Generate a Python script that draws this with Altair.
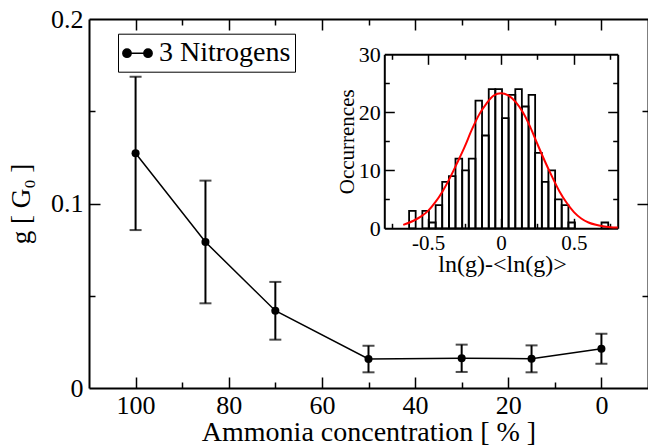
import altair as alt
import pandas as pd

FONT = "Liberation Serif"

# ---------------- main series ----------------
conc = [100, 85, 70, 50, 30, 15, 0]
g_mean = [0.1272, 0.0791, 0.0419, 0.0157, 0.0161, 0.0159, 0.0213]
g_low = [0.0856, 0.0459, 0.0262, 0.0085, 0.0087, 0.0085, 0.0132]
g_high = [0.1687, 0.1124, 0.0575, 0.0229, 0.0235, 0.0231, 0.0294]
series_name = "3 Nitrogens"

main_x_major = [100, 80, 60, 40, 20, 0]
main_x_ticks = [100, 90, 80, 70, 60, 50, 40, 30, 20, 10, 0]
main_y_major = [0, 0.1, 0.2]
main_y_ticks = [0.05, 0.1, 0.15]

# ---------------- inset histogram ----------------
bin_edges = [-0.630, -0.585, -0.539, -0.494, -0.448, -0.403, -0.357, -0.312,
             -0.266, -0.221, -0.175, -0.130, -0.084, -0.039, 0.007, 0.052,
             0.098, 0.143, 0.189, 0.234, 0.280, 0.325, 0.371, 0.416, 0.462,
             0.507, 0.553, 0.598, 0.644, 0.689, 0.735]
counts = [3, 0, 3, 1, 4, 8, 9, 12, 10, 12, 22, 16, 24, 24, 19, 23, 24, 21, 23,
          13, 8, 10, 5, 4, 1, 0, 0, 0, 0, 1]

curve_x = [-0.67, -0.60, -0.55, -0.50, -0.45, -0.40, -0.35, -0.30, -0.25, -0.20,
           -0.15, -0.10, -0.05, 0.00, 0.05, 0.10, 0.15, 0.20, 0.25, 0.30,
           0.35, 0.40, 0.45, 0.50, 0.55, 0.60, 0.65, 0.70, 0.75, 0.80]
curve_y = [0.6, 1.3, 2.0, 3.0, 4.5, 6.4, 8.7, 11.3, 14.0, 17.0,
           19.6, 21.5, 22.9, 23.3, 22.9, 21.8, 20.0, 17.5, 14.5, 11.6,
           8.9, 6.4, 4.4, 2.8, 1.7, 1.0, 0.6, 0.35, 0.2, 0.12]

inset_x_major = [-0.5, 0, 0.5]
inset_x_ticks = [-0.75, -0.5, -0.25, 0, 0.25, 0.5, 0.75]
inset_y_major = [0, 10, 20, 30]
inset_y_ticks = [5, 10, 15, 20, 25]

# ---------------- layout ----------------
W, H = 559, 369
IN_L, IN_R, IN_T, IN_B = 295.3, 528.7, 35.3, 209.3

main_df = pd.DataFrame({"conc": conc, "g": g_mean, "lo": g_low, "hi": g_high,
                        "series": [series_name] * len(conc)})
hist_df = pd.DataFrame({"x0": bin_edges[:-1], "x1": bin_edges[1:], "count": counts})
hist_df["zero"] = 0
hist_df = hist_df[hist_df["count"] > 0]
curve_df = pd.DataFrame({"x": curve_x, "y": curve_y})


def ax(**kw):
    base = dict(grid=False, labelFont=FONT, titleFont=FONT, labelColor="black",
                titleColor="black", domainColor="black", tickColor="black",
                titleFontWeight="normal")
    base.update(kw)
    return alt.Axis(**base)


def tsize(test, big, small):
    return {"condition": {"test": test, "value": big}, "value": small}


def mx():
    return alt.Scale(domain=[110, -10], nice=False, zero=False)


def my():
    return alt.Scale(domain=[0, 0.2], nice=False, zero=False)


def ix():
    return alt.Scale(domain=[-0.8, 0.8], range=[IN_L, IN_R], nice=False, zero=False)


def iy():
    return alt.Scale(domain=[0, 30], range=[IN_B, IN_T], nice=False, zero=False)


MX_T = tsize("datum.value % 20 == 0", 11, 6)
MY_T = tsize("round(datum.value * 100) % 10 == 0", 11, 6)
IX_T = tsize("round(datum.value * 4) % 2 == 0", 10, 5)
IY_T = tsize("datum.value % 10 == 0", 10, 5)

# ---- main axes ----
mx_lab = ax(orient="bottom", values=main_x_major, ticks=False, tickSize=0, domain=True,
            domainWidth=2, labelFontSize=26, labelPadding=4, labelExpr="'' + datum.value",
            title="Ammonia concentration [ % ]", titleFontSize=28, titleY=52,
            titleBaseline="alphabetic")
mx_in = ax(orient="top", offset=-H, values=main_x_ticks, labels=False, domain=False,
           tickSize=MX_T, tickWidth=1.5, title=None)
mx_top = ax(orient="bottom", offset=-H, values=main_x_ticks, labels=False, domain=True,
            domainWidth=2, tickSize=MX_T, tickWidth=1.5, title=None)
my_lab = ax(orient="left", values=main_y_major, ticks=False, tickSize=0, domain=True,
            domainWidth=2, labelFontSize=26, labelPadding=6,
            labelExpr="datum.value == 0 ? '0' : format(datum.value, '.1f')",
            title="g [ G₀ ]", titleFontSize=27, titleAngle=270, titleX=-60, titleY=184.5,
            titleAlign="center", titleBaseline="alphabetic")
my_in = ax(orient="right", offset=-W, values=main_y_ticks, labels=False, domain=False,
           tickSize=MY_T, tickWidth=1.5, title=None)
my_right = ax(orient="left", offset=-W, values=main_y_ticks, labels=False, domain=True,
              domainWidth=2, tickSize=MY_T, tickWidth=1.5, title=None)

# ---- inset axes ----
ix_lab = ax(orient="bottom", offset=IN_B - H, values=inset_x_major, ticks=False, tickSize=0,
            domain=True, domainWidth=2, labelFontSize=21, labelPadding=4,
            labelExpr="'' + datum.value", title="ln(g)-<ln(g)>", titleFontSize=24,
            titleX=(IN_L + IN_R) / 2 + 1, titleY=43, titleAlign="center",
            titleBaseline="alphabetic")
ix_in = ax(orient="top", offset=-IN_B, values=inset_x_ticks, labels=False, domain=False,
           tickSize=IX_T, tickWidth=1.5, title=None)
ix_top = ax(orient="bottom", offset=IN_T - H, values=inset_x_ticks, labels=False, domain=True,
            domainWidth=2, tickSize=IX_T, tickWidth=1.5, title=None)
iy_lab = ax(orient="left", offset=-IN_L, values=inset_y_major, ticks=False, tickSize=0,
            domain=True, domainWidth=2, labelFontSize=22, labelPadding=4,
            title="Occurrences", titleFontSize=21, titleAngle=270, titleX=-31.3,
            titleY=(IN_T + IN_B) / 2 + 0, titleAlign="center", titleBaseline="alphabetic")
iy_in = ax(orient="right", offset=IN_L - W, values=inset_y_ticks, labels=False, domain=False,
           tickSize=IY_T, tickWidth=1.5, title=None)
iy_right = ax(orient="left", offset=-IN_R, values=inset_y_ticks, labels=False, domain=True,
              domainWidth=2, tickSize=IY_T, tickWidth=1.5, title=None)

base = alt.Chart(main_df)

err = base.mark_rule(color="black", strokeWidth=2).encode(
    x=alt.X("conc:Q", scale=mx(), axis=mx_lab),
    y=alt.Y("lo:Q", scale=my(), axis=my_lab),
    y2="hi:Q",
)
cap_hi = base.mark_tick(orient="horizontal", size=12, thickness=2, color="black").encode(
    x=alt.X("conc:Q", scale=mx(), axis=mx_in),
    y=alt.Y("hi:Q", scale=my(), axis=my_in),
)
cap_lo = base.mark_tick(orient="horizontal", size=12, thickness=2, color="black").encode(
    x=alt.X("conc:Q", scale=mx(), axis=mx_top),
    y=alt.Y("lo:Q", scale=my(), axis=my_right),
)
line = base.mark_line(color="black", strokeWidth=1.5).encode(
    x=alt.X("conc:Q", scale=mx(), axis=None),
    y=alt.Y("g:Q", scale=my(), axis=None),
)

SYMBOL = ("M-0.717,0L0.717,0"
          "M-1,0A0.283,0.283,0,1,0,-0.434,0A0.283,0.283,0,1,0,-1,0Z"
          "M0.434,0A0.283,0.283,0,1,0,1,0A0.283,0.283,0,1,0,0.434,0Z")

pts = base.mark_point(filled=True, size=65, opacity=1).encode(
    x=alt.X("conc:Q", scale=mx(), axis=None),
    y=alt.Y("g:Q", scale=my(), axis=None),
    color=alt.Color("series:N", scale=alt.Scale(range=["black"]),
                    legend=alt.Legend(title=None, orient="none", legendX=29, legendY=14.7,
                                      symbolType=SYMBOL, symbolSize=858,
                                      symbolStrokeWidth=1.5, symbolStrokeColor="black",
                                      symbolFillColor="black", labelFont=FONT,
                                      labelFontSize=28, labelColor="black", labelOffset=6,
                                      strokeColor="black", fillColor="white", padding=4,
                                      cornerRadius=0)),
)

bars = alt.Chart(hist_df).mark_rect(fill="white", fillOpacity=0, stroke="black",
                                    strokeWidth=1.8).encode(
    x=alt.X("x0:Q", scale=ix(), axis=ix_lab),
    x2="x1:Q",
    y=alt.Y("count:Q", scale=iy(), axis=iy_lab),
    y2="zero:Q",
)
curve = alt.Chart(curve_df).mark_line(color="#ff0000", strokeWidth=2,
                                      interpolate="monotone").encode(
    x=alt.X("x:Q", scale=ix(), axis=ix_in),
    y=alt.Y("y:Q", scale=iy(), axis=iy_in),
)
curve_frame = alt.Chart(curve_df).mark_line(color="#ff0000", strokeOpacity=0).encode(
    x=alt.X("x:Q", scale=ix(), axis=ix_top),
    y=alt.Y("y:Q", scale=iy(), axis=iy_right),
)

chart = alt.layer(err, cap_hi, cap_lo, line, pts, bars, curve, curve_frame).resolve_scale(
    x="independent", y="independent"
).properties(
    width=W, height=H,
    padding={"left": 89, "top": 19, "right": 0, "bottom": 57},
    autosize=alt.AutoSizeParams(type="none"),
    background="white",
).configure(font=FONT).configure_axis(
    labelFont=FONT, titleFont=FONT, titleFontWeight="normal"
).configure_legend(labelFont=FONT).configure_text(font=FONT).configure_view(strokeWidth=0)

chart.save("out.html", embed_options={"renderer": "svg", "actions": False})
